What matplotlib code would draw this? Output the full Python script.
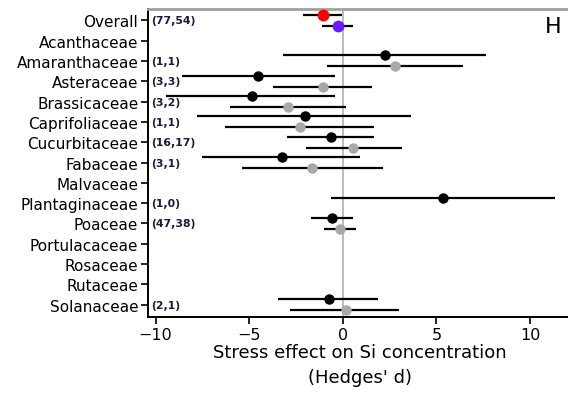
import numpy as np
import matplotlib
matplotlib.use("Agg")
import matplotlib.pyplot as plt

nan = np.nan

families = ['Overall', 'Acanthaceae', 'Amaranthaceae', 'Asteraceae', 'Brassicaceae',
            'Caprifoliaceae', 'Cucurbitaceae', 'Fabaceae', 'Malvaceae', 'Plantaginaceae',
            'Poaceae', 'Portulacaceae', 'Rosaceae', 'Rutaceae', 'Solanaceae']
counts = ['(77,54)', '', '(1,1)', '(3,3)', '(3,2)', '(1,1)', '(16,17)', '(3,1)', '',
          '(1,0)', '(47,38)', '', '', '', '(2,1)']

# first group (black, red for overall)
est1 = [-1.07, nan, 2.25, -4.5, -4.87, -2.04, -0.64, -3.27, nan, 5.36, -0.59, nan, nan, nan, -0.75]
lo1 = [-2.1, nan, -3.2, -8.6, -9.45, -7.8, -3.0, -7.5, nan, -0.64, -1.71, nan, nan, nan, -3.48]
hi1 = [-0.05, nan, 7.66, -0.43, -0.43, 3.64, 1.66, 0.91, nan, 11.36, 0.54, nan, nan, nan, 1.87]

# second group (grey, purple for overall)
est2 = [-0.27, nan, 2.8, -1.07, -2.9, -2.3, 0.54, -1.66, nan, nan, -0.16, nan, nan, nan, 0.16]
lo2 = [-1.12, nan, -0.86, -3.7, -6.0, -6.27, -1.98, -5.4, nan, nan, -1.02, nan, nan, nan, -2.84]
hi2 = [0.54, nan, 6.43, 1.55, 0.2, 1.66, 3.16, 2.14, nan, nan, 0.7, nan, nan, nan, 3.0]

plt.rcParams['font.family'] = 'DejaVu Sans'

fig = plt.figure(figsize=(5.68, 4.02), dpi=100)
ax = fig.add_axes([0.2606, 0.209, 0.745, 0.766])

y = np.arange(len(families))
est1, lo1, hi1 = map(np.array, (est1, lo1, hi1))
est2, lo2, hi2 = map(np.array, (est2, lo2, hi2))

ax.axvline(0, color='#b0b0b0', lw=1.2, zorder=0)

off = 0.27
c1 = ['red'] + ['black'] * (len(y) - 1)
c2 = ['#6a1bff'] + ['#a8a8a8'] * (len(y) - 1)
s1 = [8.5] + [7.5] * (len(y) - 1)

for i in y:
    if not np.isnan(est1[i]):
        ax.hlines(i - off, lo1[i], hi1[i], color='black', lw=1.6, zorder=2)
        ax.plot(est1[i], i - off, 'o', color=c1[i], ms=s1[i], mec='none', zorder=3)
    if not np.isnan(est2[i]):
        ax.hlines(i + off, lo2[i], hi2[i], color='black', lw=1.6, zorder=2)
        ax.plot(est2[i], i + off, 'o', color=c2[i], ms=s1[i], mec='none', zorder=3)
    if counts[i]:
        ax.text(-10.25, i, counts[i], fontsize=7.8, fontweight='bold', color='#1a1a40',
                va='center', ha='left')

ax.set_xlim(-10.4, 12.2)
ax.set_ylim(14.6, -0.55)
ax.set_yticks(y)
ax.set_yticklabels(families, fontsize=11)
ax.set_xticks([-10, -5, 0, 5, 10])
ax.set_xticklabels(['\u221210', '\u22125', '0', '5', '10'], fontsize=11.5)
ax.tick_params(axis='both', direction='out', length=5, width=1.2, color='black', pad=2)

ax.spines['right'].set_visible(False)
ax.spines['top'].set_color('#a0a0a0')
ax.spines['top'].set_linewidth(2)
ax.spines['left'].set_linewidth(1.4)
ax.spines['bottom'].set_linewidth(1.4)

ax.set_xlabel("Stress effect on Si concentration\n(Hedges' d)", fontsize=13,
              linespacing=1.5, labelpad=1)
ax.text(0.957, 0.945, 'H', transform=ax.transAxes, fontsize=16, ha='center', va='center')

fig.savefig('out.png', dpi=100)
